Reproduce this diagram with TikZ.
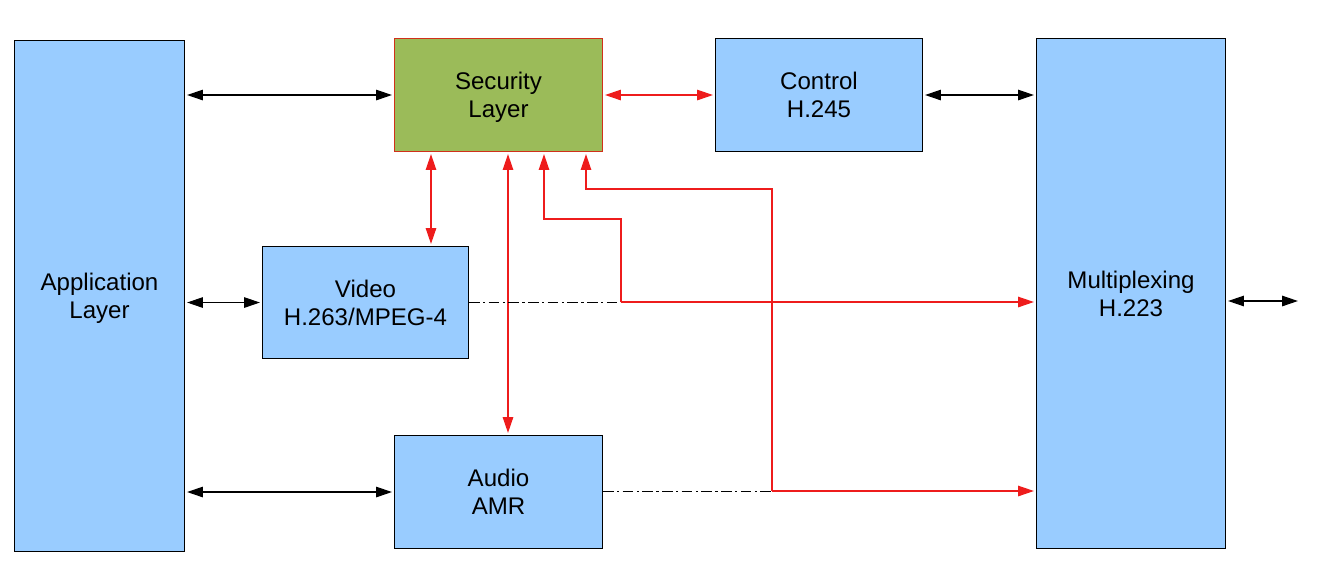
\documentclass[tikz,border=0pt]{standalone}
\usepackage{fontspec}
\setmainfont{Liberation Sans}
\usepackage{tikz}
\usetikzlibrary{arrows.meta}
\definecolor{boxblue}{HTML}{99CCFF}
\definecolor{secgreen}{HTML}{9BBB59}
\definecolor{secborder}{HTML}{D0301A}
\definecolor{linkred}{HTML}{EE1C1C}
\tikzset{
  block/.style={draw=black, line width=0.6pt, fill=boxblue, anchor=north west,
    align=center, inner sep=0pt, font=\fontsize{13.7pt}{16pt}\selectfont},
  secblock/.style={block, fill=secgreen, draw=secborder},
  link/.style={line width=0.6pt, {Triangle[length=9pt,width=6pt]}-{Triangle[length=9pt,width=6pt]}, shorten <=1.2pt, shorten >=1.2pt},
  redlink/.style={link, draw=linkred},
  redpath/.style={line width=0.6pt, draw=linkred, -{Triangle[length=9pt,width=6pt]}, shorten >=1.2pt},
  dashdot/.style={line width=0.5pt, dash pattern=on 6pt off 2pt on 1.2pt off 2pt}
}
\begin{document}
\begin{tikzpicture}[x=0.02cm, y=-0.02cm]
  \useasboundingbox (0,0) rectangle (1323,586);
  \node[block, minimum width=3.4cm, minimum height=10.22cm] (app) at (14,40) {Application\\La\smash{y}er};
  \node[secblock, minimum width=4.16cm, minimum height=2.26cm] (sec) at (394,38) {Security\\La\smash{y}er};
  \node[block, minimum width=4.14cm, minimum height=2.26cm] (ctl) at (715,38) {Control\\H.245};
  \node[block, minimum width=3.78cm, minimum height=10.2cm] (mux) at (1036,38) {Multiplexing\\H.223};
  \node[block, minimum width=4.12cm, minimum height=2.24cm] (vid) at (262,246) {Video\\H.263/MPEG-4};
  \node[block, minimum width=4.16cm, minimum height=2.26cm] (aud) at (394,435) {Audio\\AMR};
  \coordinate (vidsec) at (431,0);
  \coordinate (audsec) at (508,0);
  \coordinate (vidturn) at (621,302);
  \coordinate (vidup) at (544,219);
  \coordinate (audturn) at (772,491);
  \coordinate (audup) at (586,189);
  \coordinate (out) at (1300,301);
  \draw[link] (app.east |- sec.west) -- (sec.west);
  \draw[link] (ctl.east) -- (ctl.east -| mux.west);
  \draw[link] (app.east |- vid.west) -- (vid.west);
  \draw[link] (app.east |- aud.west) -- (aud.west);
  \draw[link] (mux.east |- out) -- (out);
  \draw[redlink] (sec.east) -- (ctl.west);
  \draw[redlink] (sec.south -| vidsec) -- (vid.north -| vidsec);
  \draw[redlink] (sec.south -| audsec) -- (aud.north -| audsec);
  \draw[dashdot] (vid.east |- vidturn) -- (vidturn);
  \draw[dashdot] (aud.east |- audturn) -- (audturn);
  \draw[redpath] (vidturn) -- (mux.west |- vidturn);
  \draw[redpath] (vidturn) |- (vidup) -- (sec.south -| vidup);
  \draw[redpath] (audturn) -- (mux.west |- audturn);
  \draw[redpath] (audturn) |- (audup) -- (sec.south -| audup);
\end{tikzpicture}
\end{document}
